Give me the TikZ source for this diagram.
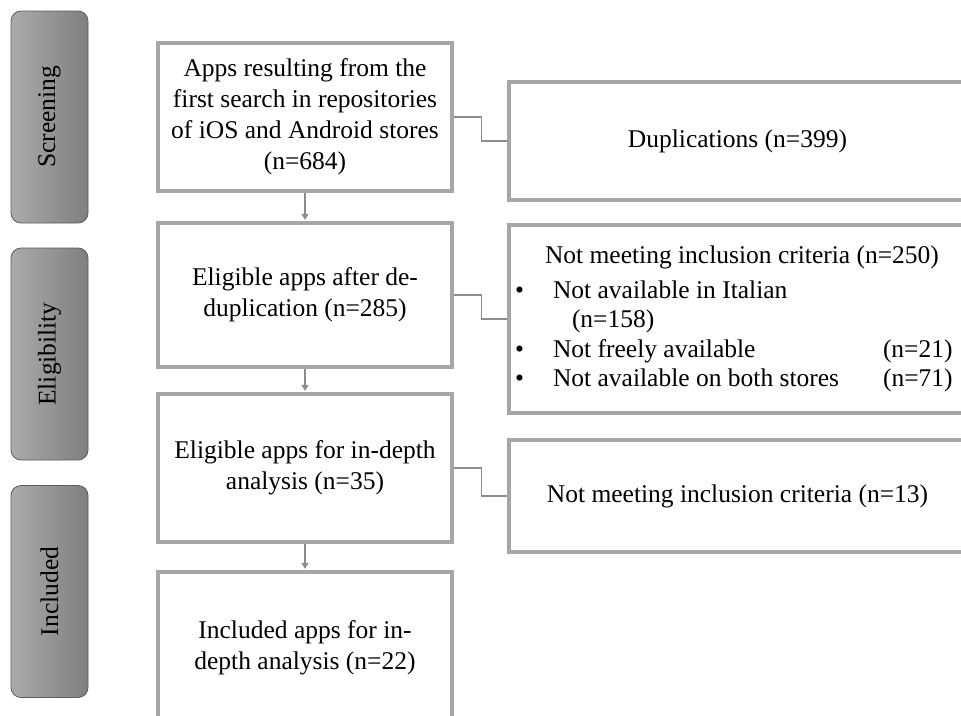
\documentclass[tikz,border=0pt]{standalone}
\usepackage{fontspec}
\setmainfont{Liberation Serif}
\usepackage{array}
\usetikzlibrary{positioning, arrows.meta}
\definecolor{Frame}{HTML}{A6A6A6}
\definecolor{Link}{HTML}{8C8C8C}
\definecolor{PhaseLight}{HTML}{ABABAB}
\definecolor{PhaseDark}{HTML}{7F7F7F}
\definecolor{PhaseEdge}{HTML}{5C5C5C}

\begin{document}
\begin{tikzpicture}[
      x=1pt, y=-1pt,
      font=\fontsize{25.5}{31}\selectfont,
      phase/.style={
        draw=PhaseEdge, line width=0.8pt, rounded corners=10pt,
        left color=PhaseLight, right color=PhaseDark,
        minimum width=77pt, minimum height=212pt, inner sep=0pt
      },
      stage/.style={draw=Frame, line width=3.3pt, minimum width=294pt, align=center, inner sep=0pt},
      outcome/.style={draw=Frame, line width=3.3pt, minimum width=457pt, align=center, inner sep=0pt},
      arr/.style={-{Triangle[length=6pt,width=7pt]}, line width=1.2pt, Link, shorten >=1.5pt},
      link/.style={line width=1.2pt, Link}
    ]
      \useasboundingbox (0,0) rectangle (961,715);
      \clip (0,0) rectangle (961,715);
      \node[phase] (screen) at (49.5,117) {\rotatebox{90}{Screening}};
      \node[phase] (elig)   at (49.5,354) {\rotatebox{90}{Eligibility}};
      \node[phase] (incl)   at (49.5,591.5) {\rotatebox{90}{Included}};
      \node[stage, minimum height=148pt] (found) at (305,117) {Apps resulting from the\\first search in repositories\\of iOS and Android stores\\(n=684)};
      \node[stage, minimum height=144pt] (dedup) at (305,295) {Eligible apps after de-\\duplication (n=285)};
      \node[stage, minimum height=148pt] (depth) at (305,468) {Eligible apps for in-depth\\analysis (n=35)};
      \node[stage, minimum height=152pt] (final) at (305,648) {Included apps for in-\\depth analysis (n=22)};
      \node[outcome, minimum height=118pt] (dupl) at (737.5,141) {Duplications (n=399)};
      \node[outcome, minimum height=188pt] (nomeet) at (737.5,319) {{\fontsize{25.5}{29.5}\selectfont
        \begin{tabular}{@{}p{38pt}@{}p{330pt}@{}>{\raggedleft\arraybackslash}p{69pt}@{\hspace{8pt}}}
          \multicolumn{3}{@{\hspace{30pt}}l@{\hspace{8pt}}}{Not meeting inclusion criteria (n=250)}\\[5.5pt]
          \textbullet & Not available in Italian & \\
          & \hspace{19pt}(n=158) & \\
          \textbullet & Not freely available & (n=21)\\
          \textbullet & Not available on both stores & (n=71)
        \end{tabular}}};
      \node[outcome, minimum height=112pt] (lowfit) at (737.5,496) {Not meeting inclusion criteria (n=13)};
      \foreach \a/\b in {found/dedup, dedup/depth, depth/final}{\draw[arr] (\a) -- (\b);}
      \foreach \a/\b in {found/dupl, dedup/nomeet, depth/lowfit}{\draw[link] (\a.east) -- ++(28,0) |- (\b.west);}
    \end{tikzpicture}
\end{document}
